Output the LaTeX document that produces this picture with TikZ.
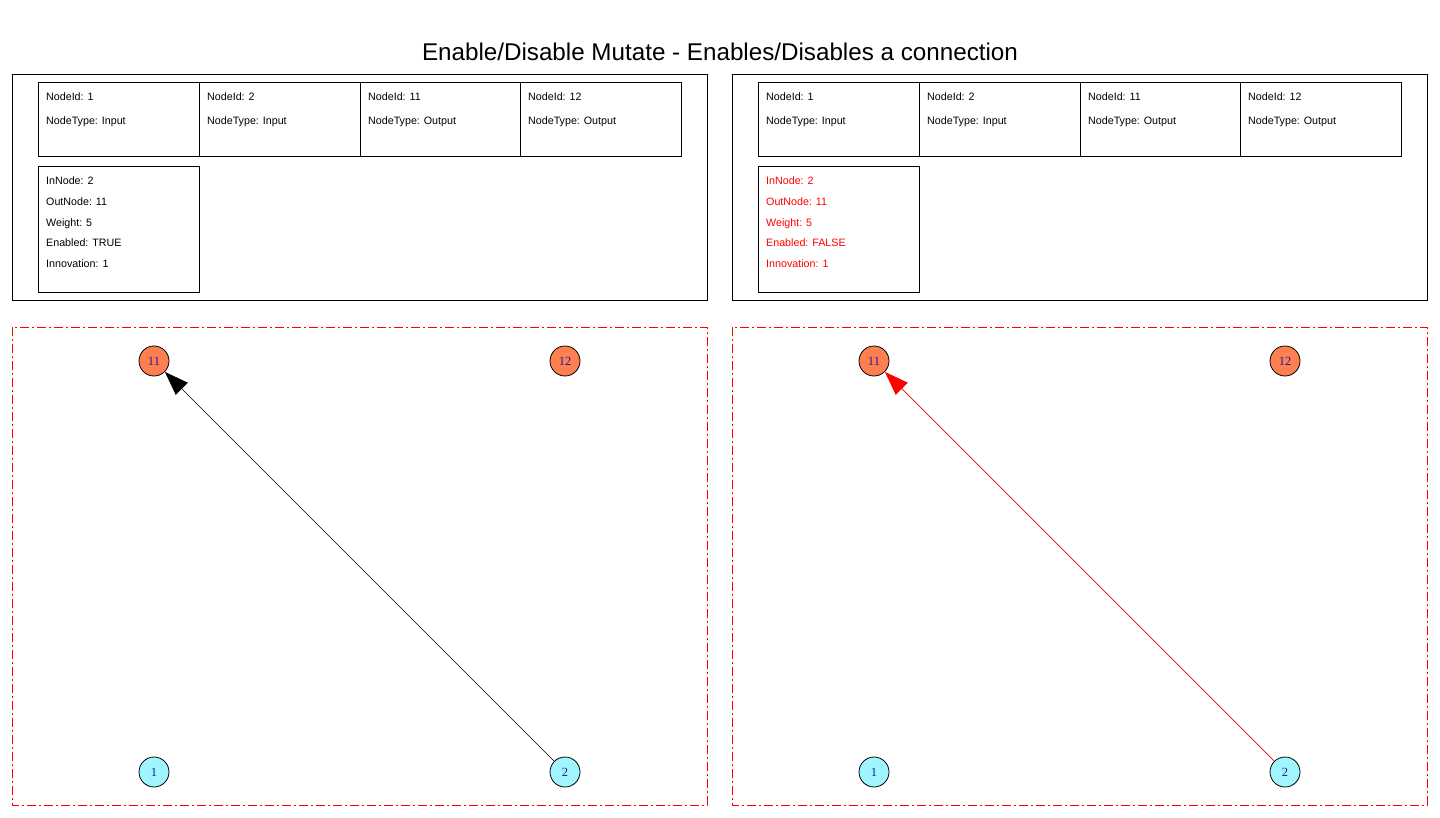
\documentclass[tikz,border=0pt]{standalone}
\usepackage{fontspec}
\setmainfont{Liberation Sans}
\newfontfamily\circfont{Liberation Serif}
\usetikzlibrary{arrows.meta}
\definecolor{coralc}{RGB}{255,127,80}
\definecolor{cyanc}{RGB}{160,245,255}
\definecolor{numblue}{RGB}{30,30,150}
\tikzset{
  panel/.style={draw=black, line width=1pt},
  dashpanel/.style={draw=red, line width=1pt, dash pattern=on 9pt off 3pt on 2pt off 3pt},
  cell/.style={draw=black, line width=1pt},
  celltxt/.style={anchor=base west, inner sep=0pt, font=\fontsize{10.7}{13}\selectfont},
  gnode/.style={circle, draw=black, line width=0.8pt, minimum size=30pt, inner sep=0pt, font=\circfont\fontsize{12.5}{14}\selectfont, text=numblue},
  outn/.style={gnode, fill=coralc},
  inn/.style={gnode, fill=cyanc},
  conn/.style={line width=0.7pt, -{Triangle[length=24pt,width=17pt]}},
}
\begin{document}
\begin{tikzpicture}[x=1pt,y=-1pt]
\useasboundingbox (0,0) rectangle (1440,818);
\node[anchor=base, inner sep=0pt, font=\fontsize{24.2}{28}\selectfont] (title) at (720,61) {Enable/Disable Mutate - Enables/Disables a connection};

% ---------- left ----------
\draw[panel] (12,75) rectangle (707,301);
\draw[cell] (38,83) rectangle (681,157);
\foreach \xx in {199,360,520} \draw[cell] (\xx,83) -- (\xx,157);
\draw[cell] (38,167) rectangle (199,293);
\node[celltxt] (l1a) at (46,101) {NodeId: 1};
\node[celltxt] (l1b) at (46,125) {NodeType: Input};
\node[celltxt] (l2a) at (207,101) {NodeId: 2};
\node[celltxt] (l2b) at (207,125) {NodeType: Input};
\node[celltxt] (l3a) at (368,101) {NodeId: 11};
\node[celltxt] (l3b) at (368,125) {NodeType: Output};
\node[celltxt] (l4a) at (528,101) {NodeId: 12};
\node[celltxt] (l4b) at (528,125) {NodeType: Output};
\node[celltxt] (lc1) at (46,185) {InNode: 2};
\node[celltxt] (lc2) at (46,206) {OutNode: 11};
\node[celltxt] (lc3) at (46,227) {Weight: 5};
\node[celltxt] (lc4) at (46,247) {Enabled: TRUE};
\node[celltxt] (lc5) at (46,268) {Innovation: 1};

\draw[dashpanel] (12,327) rectangle (707,805);
\node[outn] (L11) at (154,361) {11};
\node[outn] (L12) at (565,361) {12};
\node[inn] (L1) at (154,772) {1};
\node[inn] (L2) at (565,772) {2};
\draw[conn, black] (L2) -- (L11);

% ---------- right ----------
\draw[panel] (732,75) rectangle (1427,301);
\draw[cell] (758,83) rectangle (1401,157);
\foreach \xx in {919,1080,1240} \draw[cell] (\xx,83) -- (\xx,157);
\draw[cell] (758,167) rectangle (919,293);
\node[celltxt] (r1a) at (766,101) {NodeId: 1};
\node[celltxt] (r1b) at (766,125) {NodeType: Input};
\node[celltxt] (r2a) at (927,101) {NodeId: 2};
\node[celltxt] (r2b) at (927,125) {NodeType: Input};
\node[celltxt] (r3a) at (1088,101) {NodeId: 11};
\node[celltxt] (r3b) at (1088,125) {NodeType: Output};
\node[celltxt] (r4a) at (1248,101) {NodeId: 12};
\node[celltxt] (r4b) at (1248,125) {NodeType: Output};
\node[celltxt, text=red] (rc1) at (766,185) {InNode: 2};
\node[celltxt, text=red] (rc2) at (766,206) {OutNode: 11};
\node[celltxt, text=red] (rc3) at (766,227) {Weight: 5};
\node[celltxt, text=red] (rc4) at (766,247) {Enabled: FALSE};
\node[celltxt, text=red] (rc5) at (766,268) {Innovation: 1};

\draw[dashpanel] (732,327) rectangle (1427,805);
\node[outn] (R11) at (874,361) {11};
\node[outn] (R12) at (1285,361) {12};
\node[inn] (R1) at (874,772) {1};
\node[inn] (R2) at (1285,772) {2};
\draw[conn, red] (R2) -- (R11);
\end{tikzpicture}
\end{document}
